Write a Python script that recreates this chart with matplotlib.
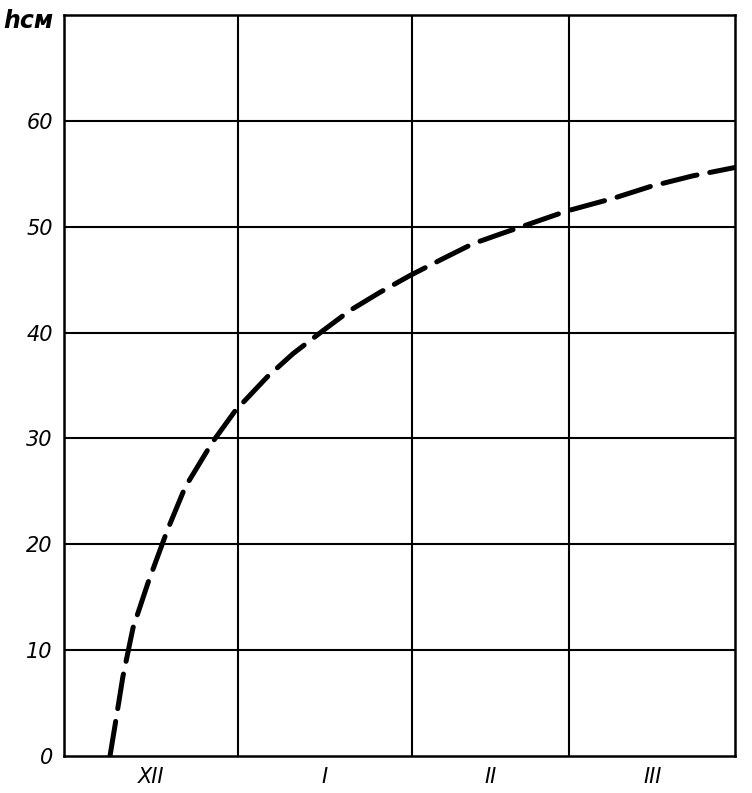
import matplotlib.pyplot as plt
import numpy as np

# days counted from 1 December
days = [8.2, 9.1, 10.5, 12.3, 15.0, 18.4, 21.6, 26.4, 30.5, 36.2, 40.8, 46.2,
        51.0, 56.3, 61.7, 67.6, 72.9, 77.7, 89.7, 98.0, 104.5, 112.0, 119.6]
h_cm = [0.0, 2.9, 7.5, 12.1, 16.4, 21.3, 25.4, 29.6, 32.6, 35.8, 38.0, 40.2,
        42.1, 43.8, 45.4, 47.0, 48.4, 49.3, 51.5, 52.7, 53.8, 54.8, 55.6]

month_bounds = [31, 62, 90]
month_mid = [15.5, 46.5, 76, 105]
month_names = ["XII", "I", "II", "III"]
y_ticks = [0, 10, 20, 30, 40, 50, 60]


def main():
    fig = plt.figure(figsize=(7.52, 7.93), dpi=100)
    ax = fig.add_axes([0.0851, 0.0467, 0.8923, 0.9343])

    for y in y_ticks[1:]:
        ax.axhline(y, color="black", lw=1.5, zorder=1)
    for x in month_bounds:
        ax.axvline(x, color="black", lw=1.5, zorder=1)

    line, = ax.plot(days, h_cm, color="black", lw=3.6, solid_capstyle="round",
                    dash_capstyle="round", zorder=3)
    line.set_dashes((7, 2.6))

    ax.set_xlim(0, 119.6)
    ax.set_ylim(0, 70)
    ax.set_yticks(y_ticks)
    ax.set_yticklabels([str(v) for v in y_ticks], fontsize=15, style="italic")
    ax.set_xticks(month_mid)
    ax.set_xticklabels(month_names, fontsize=15, style="italic")
    ax.tick_params(length=0, pad=8)
    for s in ax.spines.values():
        s.set_linewidth(1.8)

    fig.text(0.005, 0.965, "hсм", fontsize=17, style="italic", fontweight="bold")

    fig.savefig("out.png", dpi=100)


if __name__ == "__main__":
    main()
